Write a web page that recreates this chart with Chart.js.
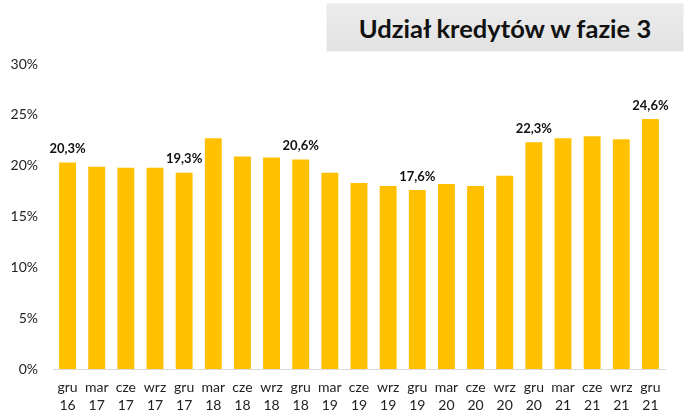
<!DOCTYPE html>
<html>
<head>
<meta charset="utf-8">
<script src="https://cdn.jsdelivr.net/npm/chart.js@4"></script>
<style>
  body { margin: 0; background: #fff; }
  #wrap { position: relative; width: 684px; height: 414px; }
  #title {
    position: absolute; left: 326px; top: 3px; width: 358px; height: 49px;
    background: linear-gradient(#ececec, #e2e2e2);
    border: 1px solid #f4f4f4; box-sizing: border-box;
    font: bold 25.5px Lato, sans-serif; color: #111;
    display: flex; align-items: center; justify-content: center;
  }
</style>
</head>
<body>
<div id="wrap">
  <canvas id="chart" width="684" height="414"></canvas>
  <div id="title">Udział kredytów w fazie 3</div>
</div>
<script>
// quarters (month abbreviation + year)
const months = ['gru', 'mar', 'cze', 'wrz', 'gru', 'mar', 'cze', 'wrz', 'gru', 'mar', 'cze',
                'wrz', 'gru', 'mar', 'cze', 'wrz', 'gru', 'mar', 'cze', 'wrz', 'gru'];
const years = ['16', '17', '17', '17', '17', '18', '18', '18', '18', '19', '19',
               '19', '19', '20', '20', '20', '20', '21', '21', '21', '21'];
// share of stage 3 loans, %
const shares = [20.3, 19.9, 19.8, 19.8, 19.3, 22.7, 20.9, 20.8, 20.6, 19.3, 18.3,
                18.0, 17.6, 18.2, 18.0, 19.0, 22.3, 22.7, 22.9, 22.6, 24.6];
// which bars get a value label (the December ones)
const labelled = [0, 4, 8, 12, 16, 20];
const yTicks = [0, 5, 10, 15, 20, 25, 30];

const labels = months.map((m, i) => [m, years[i]]);

// draws the bold value labels above the chosen bars
const valueLabels = {
    id: 'valueLabels',
    afterDatasetsDraw(chart) {
        const ctx = chart.ctx;
        const meta = chart.getDatasetMeta(0);
        ctx.save();
        ctx.font = 'bold 13px Lato, sans-serif';
        ctx.fillStyle = '#111';
        ctx.textAlign = 'center';
        ctx.textBaseline = 'bottom';
        labelled.forEach(i => {
            const bar = meta.data[i];
            const txt = shares[i].toFixed(1).replace('.', ',') + '%';
            ctx.fillText(txt, bar.x, bar.y - 7);
        });
        ctx.restore();
    }
};

const ctx = document.getElementById('chart').getContext('2d');
const chart = new Chart(ctx, {
    type: 'bar',
    data: {
        labels: labels,
        datasets: [{
            data: shares,
            backgroundColor: '#ffc000',
            borderWidth: 0,
            barPercentage: 0.58,
            categoryPercentage: 1
        }]
    },
    options: {
        responsive: false,
        animation: false,
        layout: { padding: { left: 0, right: 19, top: 64, bottom: 0 } },
        plugins: { legend: { display: false }, tooltip: { enabled: false } },
        scales: {
            x: {
                grid: { display: false, drawTicks: false },
                border: { display: true, color: '#d9d9d9', width: 1 },
                afterFit(axis) { axis.height = 45; },
                ticks: {
                    color: '#222',
                    font: { family: 'Lato', size: 14, lineHeight: 1.3 },
                    maxRotation: 0,
                    autoSkip: false,
                    padding: 9
                }
            },
            y: {
                min: 0,
                max: 30,
                grid: { display: false, drawTicks: false },
                border: { display: false },
                afterBuildTicks(axis) { axis.ticks = yTicks.map(v => ({ value: v })); },
                afterFit(axis) { axis.width = 53; },
                ticks: {
                    color: '#222',
                    font: { family: 'Lato', size: 14 },
                    padding: 15,
                    callback: v => v + '%'
                }
            }
        }
    },
    plugins: [valueLabels]
});
</script>
</body>
</html>
